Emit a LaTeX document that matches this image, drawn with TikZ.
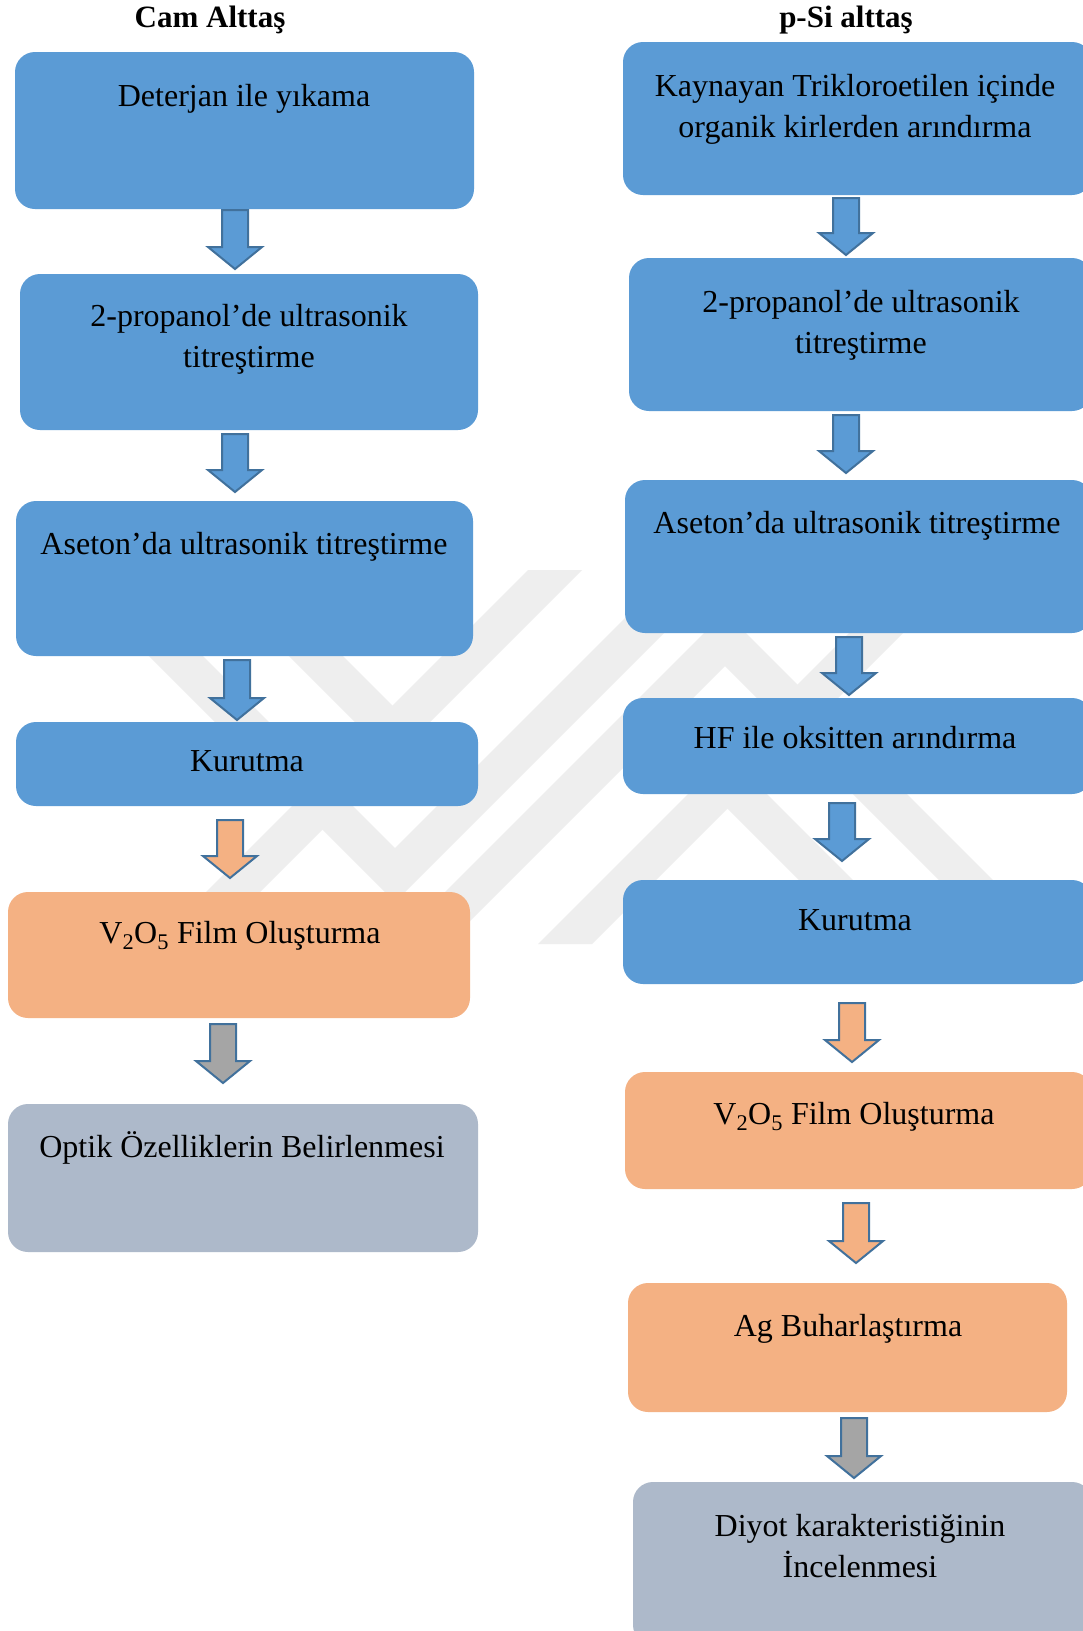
\documentclass[tikz,border=0pt]{standalone}
\usepackage{fontspec}
\setmainfont{Liberation Serif}
\definecolor{bblue}{HTML}{5B9BD5}
\definecolor{borange}{HTML}{F4B183}
\definecolor{bgrey}{HTML}{ADB9CA}
\definecolor{agrey}{HTML}{A5A5A5}
\definecolor{aline}{HTML}{41719C}
\definecolor{wm}{HTML}{EEEEEE}
% block arrow: name, centre x, top y, tip y, fill
\newcommand{\blockarr}[5]{%
  \coordinate (#1) at (#2,#3);
  \filldraw[barrow, fill=#5]
   ([xshift=-13pt]#1) -- ([xshift=13pt]#1) -- (#2+13,#4-22) -- (#2+27,#4-22)
   -- (#2,#4) -- (#2-27,#4-22) -- (#2-13,#4-22) -- cycle;}
% box: name, x1, y1, x2, y2, fill
\newcommand{\flowbox}[6]{%
  \node[fbox, fill=#6, minimum width={(#4-#2)*1pt}, minimum height={(#5-#3)*1pt}]
    (#1) at ({(#2+#4)/2},{(#3+#5)/2}) {};}
\begin{document}
\begin{tikzpicture}[x=1pt, y=-1pt,
  fbox/.style={draw=none, rounded corners=20pt, inner sep=0pt, outer sep=0pt},
  barrow/.style={draw=aline, line width=2pt, line join=miter},
  txt/.style={font=\fontsize{32}{41}\selectfont, inner sep=0pt, anchor=base, align=center},
  ttl/.style={font=\fontsize{31}{36}\selectfont\bfseries, inner sep=0pt, anchor=base}]
\useasboundingbox (0,0) rectangle (1083,1631);
\clip (0,0) rectangle (1083,1631);
\fill[white] (0,0) rectangle (1083,1631);
% watermark
\fill[wm] (528,570) -- (582,570) -- (208,944) -- (154,944) -- cycle;
\fill[wm] (912,570) -- (966,570) -- (592,944) -- (538,944) -- cycle;
\fill[wm] (203,570) -- (257,570) -- (419.5,732.5) -- (392.5,759.5) -- cycle;
\fill[wm] (917,944) -- (863,944) -- (700.5,781.5) -- (727.5,754.5) -- cycle;
\fill[wm] (63,570) -- (117,570) -- (395,848) -- (673,570) -- (727,570) -- (395,902) -- cycle;
\fill[wm] (1057,944) -- (1003,944) -- (725,666) -- (447,944) -- (393,944) -- (725,612) -- cycle;
% titles
\node[ttl] (titleL) at (210,27) {Cam Alttaş};
\node[ttl] (titleR) at (846,27) {p-Si alttaş};
% left column boxes
\flowbox{L1}{15}{52}{474}{209}{bblue}
\flowbox{L2}{20}{274}{478}{430}{bblue}
\flowbox{L3}{16}{501}{473}{656}{bblue}
\flowbox{L4}{16}{722}{478}{806}{bblue}
\flowbox{L5}{8}{892}{470}{1018}{borange}
\flowbox{L6}{8}{1104}{478}{1252}{bgrey}
% right column boxes
\flowbox{R1}{623}{42}{1092}{195}{bblue}
\flowbox{R2}{629}{258}{1092}{411}{bblue}
\flowbox{R3}{625}{480}{1092}{633}{bblue}
\flowbox{R4}{623}{698}{1092}{794}{bblue}
\flowbox{R5}{623}{880}{1092}{984}{bblue}
\flowbox{R6}{625}{1072}{1092}{1189}{borange}
\flowbox{R7}{628}{1283}{1067}{1412}{borange}
\flowbox{R8}{633}{1482}{1092}{1645}{bgrey}
% texts (anchor base = baseline of the last line)
\node[txt] (tL1) at (244,106) {Deterjan ile yıkama};
\node[txt] (tL2) at (249,367) {2-propanol’de ultrasonik\\titreştirme};
\node[txt] (tL3) at (244,554) {Aseton’da ultrasonik titreştirme};
\node[txt] (tL4) at (247,771) {Kurutma};
\node[txt] (tL5) at (240,943) {V\textsubscript{2}O\textsubscript{5} Film Oluşturma};
\node[txt] (tL6) at (242,1157) {Optik Özelliklerin Belirlenmesi};
\node[txt] (tR1) at (855,137) {Kaynayan Trikloroetilen içinde\\organik kirlerden arındırma};
\node[txt] (tR2) at (861,353) {2-propanol’de ultrasonik\\titreştirme};
\node[txt] (tR3) at (857,533) {Aseton’da ultrasonik titreştirme};
\node[txt] (tR4) at (855,748) {HF ile oksitten arındırma};
\node[txt] (tR5) at (855,930) {Kurutma};
\node[txt] (tR6) at (854,1124) {V\textsubscript{2}O\textsubscript{5} Film Oluşturma};
\node[txt] (tR7) at (848,1336) {Ag Buharlaştırma};
\node[txt] (tR8) at (860,1577) {Diyot karakteristiğinin\\İncelenmesi};
% arrows
\blockarr{aL1}{235}{210}{269}{bblue}
\blockarr{aL2}{235}{434}{492}{bblue}
\blockarr{aL3}{237}{660}{720}{bblue}
\blockarr{aL4}{230}{820}{878}{borange}
\blockarr{aL5}{223}{1024}{1083}{agrey}
\blockarr{aR1}{846}{198}{255}{bblue}
\blockarr{aR2}{846}{415}{473}{bblue}
\blockarr{aR3}{849}{637}{695}{bblue}
\blockarr{aR4}{842}{803}{861}{bblue}
\blockarr{aR5}{852}{1003}{1062}{borange}
\blockarr{aR6}{856}{1203}{1263}{borange}
\blockarr{aR7}{854}{1418}{1478}{agrey}
\end{tikzpicture}
\end{document}
